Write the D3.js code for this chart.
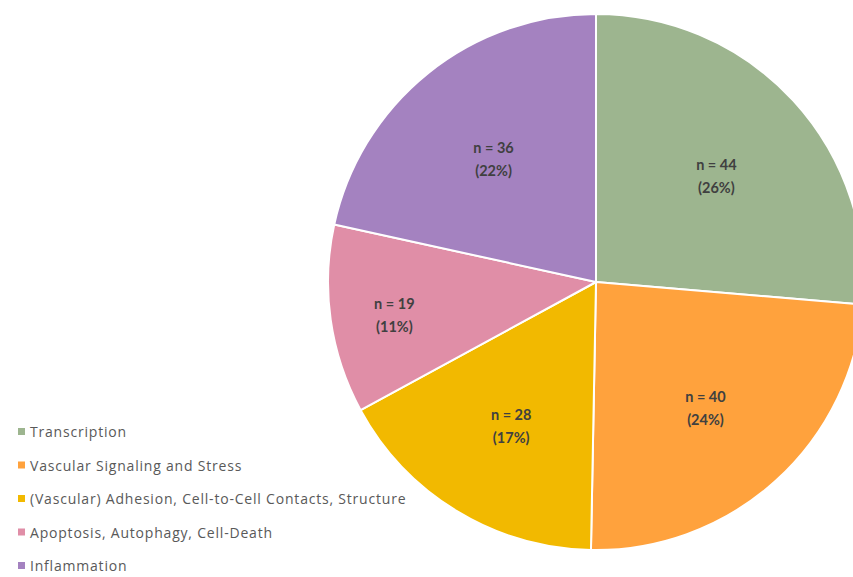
<!DOCTYPE html>
<html>
<head>
<meta charset="utf-8">
<script src="https://cdn.jsdelivr.net/npm/d3@7"></script>
<style>
  html, body { margin: 0; padding: 0; background: #fff; }
  svg { display: block; }
</style>
</head>
<body>
<svg id="chart" width="853" height="577"></svg>
<script>
// data
const categories = [
    "Transcription",
    "Vascular Signaling and Stress",
    "(Vascular) Adhesion, Cell-to-Cell Contacts, Structure",
    "Apoptosis, Autophagy, Cell-Death",
    "Inflammation"
];
const counts = [44, 40, 28, 19, 36];
const percentLabels = ["26%", "24%", "17%", "11%", "22%"];
const colors = ["#9db58f", "#ffa23d", "#f2b900", "#e08ea7", "#a482c0"];

const svg = d3.select("#chart");
const cx = 596, cy = 282, radius = 268;

const pie = d3.pie().sort(null).value(d => d.value);
const slices = pie(categories.map((c, i) => ({ name: c, value: counts[i], pct: percentLabels[i], color: colors[i] })));
const total = d3.sum(counts);

const arc = d3.arc().innerRadius(0).outerRadius(radius);

const g = svg.append("g").attr("transform", `translate(${cx},${cy})`);

g.selectAll("path").data(slices).enter().append("path")
    .attr("d", arc)
    .attr("fill", d => d.data.color)
    .attr("stroke", "#fff")
    .attr("stroke-width", 2)
    .attr("stroke-linejoin", "round");

// small slices get their label pushed further out, like the original
const labelPos = d => {
    const f = d.data.value / total < 0.15 ? 0.76 : 0.61;
    const r = radius * f;
    return d3.arc().innerRadius(r).outerRadius(r).centroid(d);
};

const lbl = g.selectAll("text.lbl").data(slices).enter().append("text")
    .attr("class", "lbl")
    .attr("text-anchor", "middle")
    .attr("font-family", "Lato, 'Open Sans', sans-serif")
    .attr("font-size", "14.5px")
    .attr("font-weight", "bold")
    .attr("fill", "#404040")
    .attr("transform", d => { const p = labelPos(d); return `translate(${p[0]},${p[1] + 2})`; });

lbl.append("tspan").attr("x", 0).attr("dy", "-0.25em").text(d => `n = ${d.data.value}`);
lbl.append("tspan").attr("x", 0).attr("dy", "1.6em").text(d => `(${d.data.pct})`);

// legend
const legendY = d3.scalePoint().domain(categories).range([432, 566]);
const legend = svg.append("g").selectAll("g").data(slices).enter().append("g")
    .attr("transform", d => `translate(18,${legendY(d.data.name)})`);

legend.append("rect").attr("x", 0).attr("y", -4).attr("width", 7).attr("height", 7)
    .attr("fill", d => d.data.color);
legend.append("text").attr("x", 12).attr("y", 5)
    .attr("font-family", "'Open Sans', sans-serif")
    .attr("font-size", "14px")
    .attr("letter-spacing", "0.8px")
    .attr("fill", "#595959")
    .text(d => d.data.name);
</script>
</body>
</html>
